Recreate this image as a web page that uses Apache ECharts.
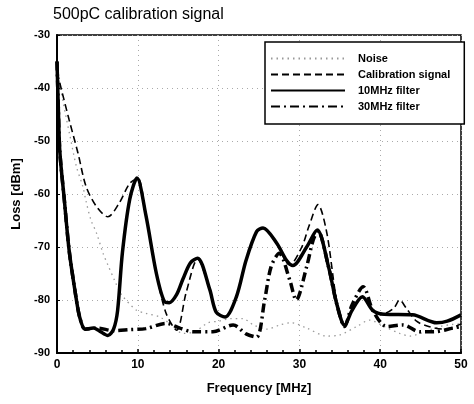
<!DOCTYPE html>
<html>
<head>
<meta charset="utf-8">
<script src="https://cdn.jsdelivr.net/npm/echarts@6/dist/echarts.min.js"></script>
<style>
  html, body { margin: 0; padding: 0; background: #fff; }
  #chart { width: 474px; height: 404px; }
</style>
</head>
<body>
<div id="chart"></div>
<script>
// axis ticks
const freqTicks = [0, 10, 20, 30, 40, 50];
const lossTicks = [-90, -80, -70, -60, -50, -40, -30];

// Noise (dotted)
const noiseFreq = [0, 0.8, 1.6, 2.4, 3.2, 3.6, 4.2, 4.9, 5.7, 6.3, 7.1, 8, 9.8, 11, 12.7, 14, 15.6, 17, 18.7, 20, 21.5, 23, 24.3, 26, 27.6, 29, 30.9, 33.4, 35, 37.1, 38.7, 40.5, 42.4, 43.7, 45.5, 47.4, 49, 50];
const noiseLoss = [-36, -43, -49, -54.8, -58.6, -61.4, -64.9, -67.4, -71.2, -73.4, -76.2, -79, -81.9, -82.5, -83.2, -84.5, -86.3, -86, -84.3, -84, -83.5, -83.5, -84.7, -85.5, -84.7, -84.3, -85.3, -86.8, -86.6, -85, -83.8, -85, -86.3, -86.8, -86, -85, -84.6, -84.5];

// Calibration signal (dashed)
const calFreq = [0, 0.5, 1.5, 2.6, 3.6, 4.9, 6.3, 7.7, 9, 10, 11, 12.3, 13.5, 14.8, 16, 17.4, 18.9, 19.7, 20.8, 22.2, 23.4, 24.7, 25.5, 27.2, 28.8, 30.3, 31.2, 32.3, 33.4, 34.6, 35.6, 36.5, 37.8, 39.1, 40.5, 41.7, 42.4, 43.2, 44.5, 46, 48, 50];
const calLoss = [-37, -40, -46, -52.3, -58.6, -62.4, -64.3, -61.7, -58, -57, -64, -75, -82.5, -85.7, -78.5, -72.3, -78, -82.3, -83.2, -79.4, -72.5, -67.1, -66.4, -69.5, -73.4, -70, -66, -62, -67.4, -80, -85, -82, -79.5, -82, -82.5, -81.5, -80, -81.5, -84, -85, -85.5, -84.5];

// 10MHz filter (solid)
const f10Freq = [0, 0.15, 0.35, 0.9, 1.5, 2.2, 2.8, 3.5, 4.5, 5.2, 6.3, 7, 7.5, 8.1, 9, 9.9, 11, 12.3, 13.3, 13.9, 14.8, 15.6, 16.5, 17.4, 18.9, 19.7, 20.8, 22.2, 23.4, 24.7, 25.5, 27.2, 28.4, 29.2, 30.9, 32.2, 33.6, 34.6, 35.6, 36.5, 37.8, 39.1, 40.5, 44, 47, 48.3, 50];
const f10Loss = [-35, -43, -52, -61, -70.6, -78, -83.2, -85.5, -85.3, -85.8, -86.7, -85.5, -82, -71, -61, -57, -64, -75, -80.3, -80.5, -79, -76, -73, -72.1, -78, -82.3, -83.2, -79.4, -72.5, -67.1, -66.4, -69.3, -72.5, -73.5, -70, -66.8, -73.7, -80.6, -84.8, -82, -79.4, -82, -82.7, -82.8, -84.3, -84, -82.8];

// 30MHz filter (dash-dot)
const f30Freq = [0, 0.15, 0.35, 0.9, 1.5, 2.2, 2.8, 3.5, 5, 7, 9, 11, 13.5, 15.2, 16.8, 19.3, 21.8, 23.4, 24.7, 25.7, 26.5, 27.5, 28.8, 29.6, 30.9, 31.7, 32.3, 33.6, 34.6, 35.6, 36.5, 37.9, 39.1, 40.8, 42.8, 44.9, 46.6, 49, 50];
const f30Loss = [-35, -43, -52, -61, -70.6, -78, -83.2, -85.5, -85.3, -85.8, -85.6, -85.4, -84.4, -85.3, -86, -86, -84.7, -86.4, -87, -80, -73.7, -71.2, -76.2, -80, -73.7, -68.7, -67, -73.7, -80.6, -85, -81, -77.5, -82, -85, -84.7, -86, -86, -85.3, -85];

const pairs = (xs, ys) => xs.map((x, i) => [x, ys[i]]);

const chart = echarts.init(document.getElementById('chart'));
const boldFont = { color: '#000', fontFamily: 'Liberation Sans', fontWeight: 'bold', fontSize: 11 };
const nameFont = { ...boldFont, fontSize: 13 };

chart.setOption({
    animation: false,
    backgroundColor: '#fff',
    title: {
        text: '500pC calibration signal',
        left: 48, top: 2,
        textStyle: { color: '#000', fontFamily: 'Liberation Sans', fontWeight: 'normal', fontSize: 16 },
    },
    legend: {
        orient: 'vertical',
        left: 265, top: 42,
        padding: [11, 14, 12, 5],
        itemGap: 5,
        itemWidth: 74, itemHeight: 11,
        borderColor: '#000', borderWidth: 1.5,
        backgroundColor: '#fff',
        itemStyle: { opacity: 0 },
        textStyle: { color: '#000', fontFamily: 'Liberation Sans', fontWeight: 'bold', fontSize: 11, padding: [0, 0, 0, 8] },
        data: ['Noise', 'Calibration signal', '10MHz filter', '30MHz filter'],
    },
    grid: { left: 57, top: 35, right: 13, bottom: 51, show: true, borderColor: '#000', borderWidth: 1.5 },
    xAxis: {
        type: 'value',
        min: freqTicks[0], max: freqTicks[freqTicks.length - 1], interval: 10,
        name: 'Frequency [MHz]', nameLocation: 'middle', nameGap: 29,
        nameTextStyle: nameFont,
        axisLine: { lineStyle: { color: '#000', width: 2 } },
        axisTick: { inside: true, length: 4, lineStyle: { color: '#000', width: 1.5 } },
        minorTick: { show: true, splitNumber: 5, length: 3, lineStyle: { color: '#000', width: 1.5 } },
        axisLabel: { ...boldFont, fontSize: 12, margin: 6 },
        splitLine: { show: true, lineStyle: { color: '#aaa', type: [1, 4], width: 1 } },
    },
    yAxis: {
        type: 'value',
        min: lossTicks[0], max: lossTicks[lossTicks.length - 1], interval: 10,
        name: 'Loss [dBm]', nameLocation: 'middle', nameGap: 31, nameRotate: 90,
        nameTextStyle: nameFont,
        axisLine: { show: true, lineStyle: { color: '#000', width: 2 } },
        axisTick: { show: true, inside: true, length: 3, lineStyle: { color: '#000' } },
        axisLabel: { ...boldFont, margin: 7 },
        splitLine: { show: true, lineStyle: { color: '#aaa', type: [1, 4], width: 1 } },
    },
    series: [
        {
            name: 'Noise', type: 'line', data: pairs(noiseFreq, noiseLoss),
            smooth: 0.3, symbol: 'none', z: 1,
            lineStyle: { color: '#999', width: 1.3, type: [1.5, 4] },
            itemStyle: { color: '#999' },
        },
        {
            name: 'Calibration signal', type: 'line', data: pairs(calFreq, calLoss),
            smooth: 0.3, symbol: 'none', z: 2,
            lineStyle: { color: '#000', width: 1.6, type: [7, 4] },
            itemStyle: { color: '#000' },
        },
        {
            name: '10MHz filter', type: 'line', data: pairs(f10Freq, f10Loss),
            smooth: 0.3, symbol: 'none', z: 4,
            lineStyle: { color: '#000', width: 3.5 },
            itemStyle: { color: '#000' },
        },
        {
            name: '30MHz filter', type: 'line', data: pairs(f30Freq, f30Loss),
            smooth: 0.3, symbol: 'none', z: 3,
            lineStyle: { color: '#000', width: 3.5, type: [9, 4, 2, 4] },
            itemStyle: { color: '#000' },
        },
    ],
});
</script>
</body>
</html>
